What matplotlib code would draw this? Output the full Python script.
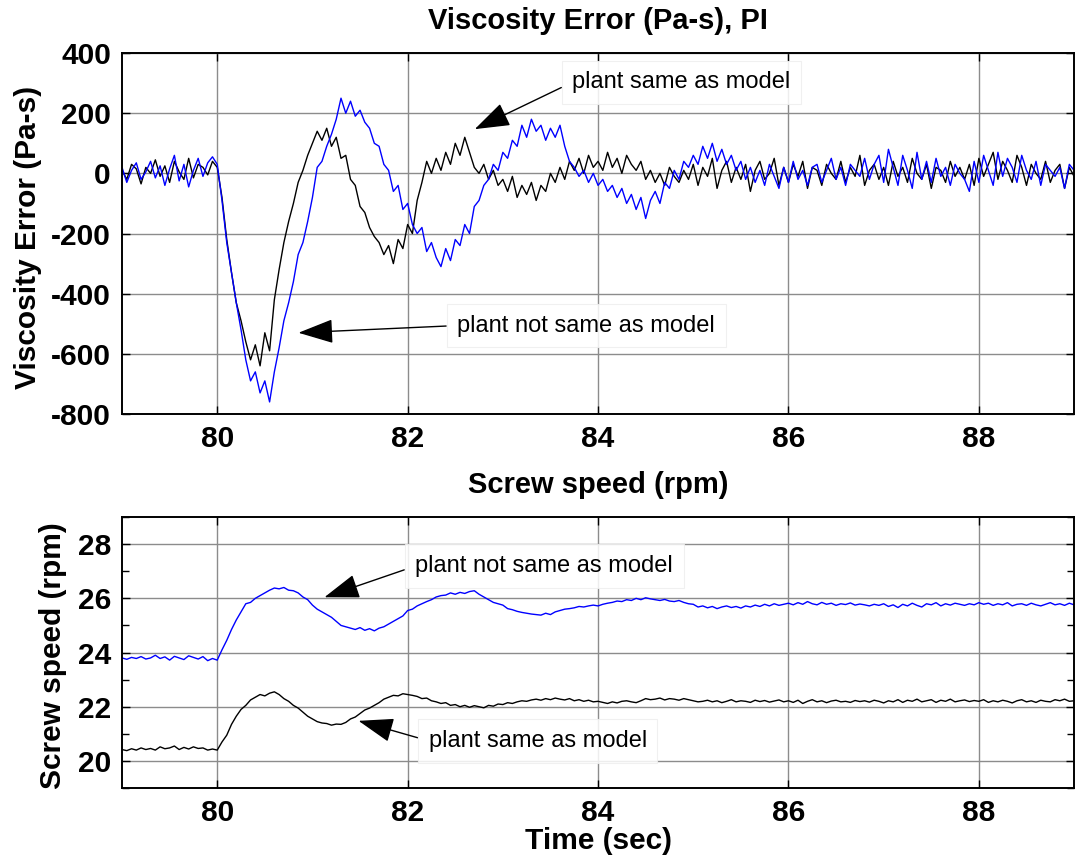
import numpy as np
import matplotlib
matplotlib.use("Agg")
import matplotlib.pyplot as plt
from matplotlib.ticker import MultipleLocator

T_START, T_STEP = 79.0, 0.05

visc_same = [
    10, -20, 30, 15, -35, 20, 0, 45, -10, 25, -30, 40, 5, -20, 50, -15, 30, 20, -5, 40,                          # 79
    20, -80, -220, -330, -430, -490, -560, -620, -570, -640, -530, -590, -420, -320, -230, -160, -100, -30, 10, 60,  # 80
    100, 140, 110, 150, 90, 120, 50, 60, -20, -40, -110, -130, -180, -210, -230, -270, -240, -300, -220, -250,      # 81
    -170, -200, -90, -30, 40, 0, 50, 10, 70, 30, 100, 60, 120, 70, 20, 0, 30, -20, 10, -40,                     # 82
    -20, -60, -10, -80, -40, -70, -30, -90, -40, -60, 0, -30, 20, -20, 40, 10, 50, 0, 60, 20,                    # 83
    40, 10, 70, 20, 50, 0, 60, 30, 10, 40, -20, 10, -30, 0, -40, 20, -10, -30, 10, -20,                          # 84
    30, -40, 20, -10, 50, -50, 10, 40, -30, 20, -20, 30, -60, 10, 40, -20, 0, 50, -40, 20,                       # 85
    -30, 30, -10, 40, -50, 20, 10, -40, 30, 0, -20, 40, -30, 20, -10, 60, -40, 10, 30, -20,                      # 86
    20, -40, 40, -10, 20, -30, 50, 0, -20, 30, -50, 20, 10, -30, 40, -10, 20, -20, 30, -40,                      # 87
    50, -10, 30, 70, -20, 40, 10, -30, 60, 20, -40, 30, 0, -20, 40, -30, 10, 30, -50, 20,                        # 88
    -10,
]

visc_not_same = [
    20, -30, 10, 35, -20, 5, 40, -15, 25, -40, 15, 60, -25, 30, -45, 10, 50, -10, 35, 55,                        # 79
    30, -90, -230, -330, -430, -520, -620, -690, -660, -730, -690, -760, -660, -580, -490, -430, -360, -270, -230, -160,  # 80
    -80, 20, 40, 90, 130, 180, 250, 200, 240, 190, 210, 170, 150, 100, 90, 30, 10, -60, -40, -120,               # 81
    -100, -170, -200, -180, -260, -230, -280, -310, -250, -290, -220, -240, -170, -200, -110, -90, -40, -20, 30, 10,  # 82
    70, 50, 110, 90, 160, 120, 180, 140, 160, 110, 150, 120, 160, 90, 40, 20, -10, 10, -30, 0,                  # 83
    -40, -20, -60, -40, -80, -50, -100, -70, -120, -80, -150, -90, -60, -100, -30, -50, 10, -20, 40, 20,         # 84
    60, 30, 90, 50, 100, 40, 80, 30, 60, 10, 40, -20, 20, -30, 10, -40, 30, -10, -50, 20,                        # 85
    -30, 40, -20, 10, -40, 20, 30, -30, 10, 50, -20, 20, -40, 30, 10, -10, 50, -20, 30, 60,                      # 86
    -30, 80, 20, -40, 60, 10, -50, 70, -20, 40, -30, 50, -10, 20, -40, 30, 0, -20, -60, 40,                      # 87
    -30, 60, 10, -40, 70, -10, 50, 20, -30, 60, 10, -20, 40, -40, 30, 10, -10, 20, -50, 30,                      # 88
    10,
]

speed_not_same = [
    23.80, 23.75, 23.82, 23.78, 23.85, 23.76, 23.80, 23.90, 23.78, 23.84, 23.72, 23.86, 23.80, 23.74, 23.88, 23.82, 23.76, 23.85, 23.70, 23.78,  # 79
    23.72, 24.10, 24.45, 24.85, 25.20, 25.50, 25.80, 25.85, 26.00, 26.10, 26.20, 26.30, 26.38, 26.35, 26.40, 26.30, 26.28, 26.20, 26.05, 25.95,  # 80
    25.75, 25.60, 25.50, 25.40, 25.30, 25.15, 25.00, 24.95, 24.90, 24.85, 24.92, 24.82, 24.88, 24.80, 24.90, 24.95, 25.05, 25.15, 25.25, 25.35,  # 81
    25.55, 25.60, 25.72, 25.80, 25.88, 25.95, 26.05, 26.10, 26.12, 26.20, 26.15, 26.22, 26.18, 26.25, 26.28, 26.15, 26.05, 25.95, 25.85, 25.80,  # 82
    25.75, 25.62, 25.58, 25.52, 25.48, 25.45, 25.42, 25.40, 25.38, 25.45, 25.40, 25.50, 25.55, 25.60, 25.62, 25.65, 25.70, 25.68, 25.72, 25.75,  # 83
    25.72, 25.78, 25.82, 25.85, 25.90, 25.88, 25.95, 25.92, 26.00, 25.95, 26.02, 25.98, 25.95, 25.92, 25.96, 25.90, 25.88, 25.92, 25.85, 25.80,  # 84
    25.78, 25.68, 25.72, 25.65, 25.70, 25.62, 25.68, 25.72, 25.66, 25.70, 25.64, 25.72, 25.68, 25.75, 25.70, 25.78, 25.72, 25.80, 25.74, 25.78,  # 85
    25.82, 25.76, 25.84, 25.78, 25.88, 25.80, 25.76, 25.85, 25.78, 25.82, 25.74, 25.80, 25.77, 25.83, 25.75, 25.79, 25.76, 25.72, 25.78, 25.74,  # 86
    25.80, 25.70, 25.76, 25.66, 25.78, 25.72, 25.82, 25.74, 25.68, 25.80, 25.76, 25.84, 25.72, 25.80, 25.75, 25.82, 25.78, 25.74, 25.80, 25.76,  # 87
    25.84, 25.78, 25.82, 25.74, 25.80, 25.76, 25.84, 25.72, 25.78, 25.80, 25.74, 25.82, 25.76, 25.72, 25.78, 25.84, 25.76, 25.80, 25.74, 25.82,  # 88
    25.76,
]

speed_same = [
    20.42, 20.38, 20.45, 20.40, 20.48, 20.42, 20.46, 20.40, 20.52, 20.45, 20.48, 20.55, 20.42, 20.50, 20.44, 20.52, 20.46, 20.48, 20.40, 20.44,  # 79
    20.40, 20.70, 20.95, 21.35, 21.65, 21.90, 22.05, 22.25, 22.35, 22.45, 22.40, 22.50, 22.55, 22.45, 22.30, 22.20, 22.05, 21.95, 21.80, 21.65,  # 80
    21.55, 21.45, 21.40, 21.38, 21.32, 21.36, 21.35, 21.42, 21.55, 21.62, 21.75, 21.88, 21.95, 22.05, 22.15, 22.28, 22.35, 22.42, 22.40, 22.48,  # 81
    22.45, 22.42, 22.38, 22.30, 22.32, 22.22, 22.18, 22.12, 22.15, 22.05, 22.08, 22.00, 22.05, 21.98, 22.04, 22.00, 21.96, 22.05, 22.02, 22.10,  # 82
    22.08, 22.15, 22.12, 22.18, 22.22, 22.20, 22.25, 22.28, 22.24, 22.30, 22.26, 22.32, 22.28, 22.25, 22.30, 22.22, 22.26, 22.20, 22.24, 22.18,  # 83
    22.20, 22.16, 22.12, 22.18, 22.14, 22.20, 22.22, 22.18, 22.15, 22.22, 22.30, 22.26, 22.28, 22.32, 22.25, 22.30, 22.28, 22.24, 22.30, 22.26,  # 84
    22.22, 22.18, 22.20, 22.24, 22.18, 22.22, 22.15, 22.20, 22.26, 22.18, 22.22, 22.20, 22.16, 22.24, 22.19, 22.23, 22.17, 22.21, 22.25, 22.18,  # 85
    22.22, 22.16, 22.24, 22.12, 22.20, 22.26, 22.18, 22.22, 22.15, 22.21, 22.24, 22.18, 22.20, 22.16, 22.23, 22.19, 22.22, 22.17, 22.24, 22.20,  # 86
    22.14, 22.22, 22.18, 22.26, 22.16, 22.24, 22.20, 22.28, 22.18, 22.22, 22.26, 22.16, 22.24, 22.20, 22.28, 22.18, 22.22, 22.25, 22.19, 22.23,  # 87
    22.20, 22.26, 22.16, 22.22, 22.18, 22.24, 22.20, 22.14, 22.22, 22.26, 22.18, 22.22, 22.16, 22.24, 22.20, 22.18, 22.26, 22.22, 22.28, 22.20,  # 88
    22.22,
]

LBL_SAME = 'plant same as model'
LBL_NOT_SAME = 'plant not same as model'

plt.rcParams['font.family'] = ['Liberation Sans', 'DejaVu Sans']
plt.rcParams['axes.unicode_minus'] = False

BLUE = '#0000ff'
GRID = '#8c8c8c'


def time_axis(values):
    return T_START + T_STEP * np.arange(len(values))


def style_axes(ax, ylim, ymajor, yminor=None):
    ax.set_xlim(79, 89)
    ax.set_ylim(*ylim)
    ax.xaxis.set_major_locator(MultipleLocator(2))
    ax.yaxis.set_major_locator(MultipleLocator(ymajor))
    if yminor:
        ax.yaxis.set_minor_locator(MultipleLocator(yminor))
    ax.grid(True, which='major', color=GRID, linewidth=1.0)
    ax.tick_params(which='both', direction='in', top=True, right=True,
                   labelsize=21.5, width=1.0, pad=8)
    ax.tick_params(which='major', length=6)
    ax.tick_params(which='minor', length=5)
    for lab in ax.get_xticklabels() + ax.get_yticklabels():
        lab.set_fontweight('bold')
    for sp in ax.spines.values():
        sp.set_linewidth(1.4)


def note(ax, text, tip, start):
    ax.annotate(text, xy=tip, xytext=start, ha='left', va='center',
                fontsize=17,
                bbox=dict(boxstyle='square,pad=0.45', fc='white', ec='#eeeeee', lw=0.8, alpha=0.85),
                arrowprops=dict(arrowstyle='-|>,head_length=1.3,head_width=0.45',
                                color='black', lw=1.0, shrinkA=0, shrinkB=0,
                                relpos=(0.0, 0.5)))


fig = plt.figure(figsize=(10.77, 8.56), dpi=100)
ax1 = fig.add_axes([0.1133, 0.5164, 0.884, 0.4216])
ax2 = fig.add_axes([0.1133, 0.0794, 0.884, 0.3166])

# top panel: viscosity error
ax1.plot(time_axis(visc_same), visc_same, color='black', lw=1.0)
ax1.plot(time_axis(visc_not_same), visc_not_same, color=BLUE, lw=1.0)
style_axes(ax1, (-800, 400), 200)
ax1.set_title('Viscosity Error (Pa-s), PI', fontsize=21, fontweight='bold', pad=17)
ax1.set_ylabel('Viscosity Error (Pa-s)', fontsize=21.5, fontweight='bold')
ax1.yaxis.set_label_coords(-0.084, 0.49)
note(ax1, LBL_SAME, (82.705, 147), (83.73, 303))
note(ax1, LBL_NOT_SAME, (80.853, -530), (82.52, -506))

# bottom panel: screw speed
ax2.plot(time_axis(speed_not_same), speed_not_same, color=BLUE, lw=1.0)
ax2.plot(time_axis(speed_same), speed_same, color='black', lw=1.0)
style_axes(ax2, (19, 29), 2, 1)
ax2.set_title('Screw speed (rpm)', fontsize=21, fontweight='bold', pad=17)
ax2.set_ylabel('Screw speed (rpm)', fontsize=21.5, fontweight='bold')
ax2.yaxis.set_label_coords(-0.058, 0.49)
ax2.set_xlabel('Time (sec)', fontsize=21.5, fontweight='bold', labelpad=0)
note(ax2, LBL_NOT_SAME, (81.126, 26.04), (82.08, 27.19))
note(ax2, LBL_SAME, (81.484, 21.48), (82.22, 20.74))

fig.savefig('out.png', dpi=100)
